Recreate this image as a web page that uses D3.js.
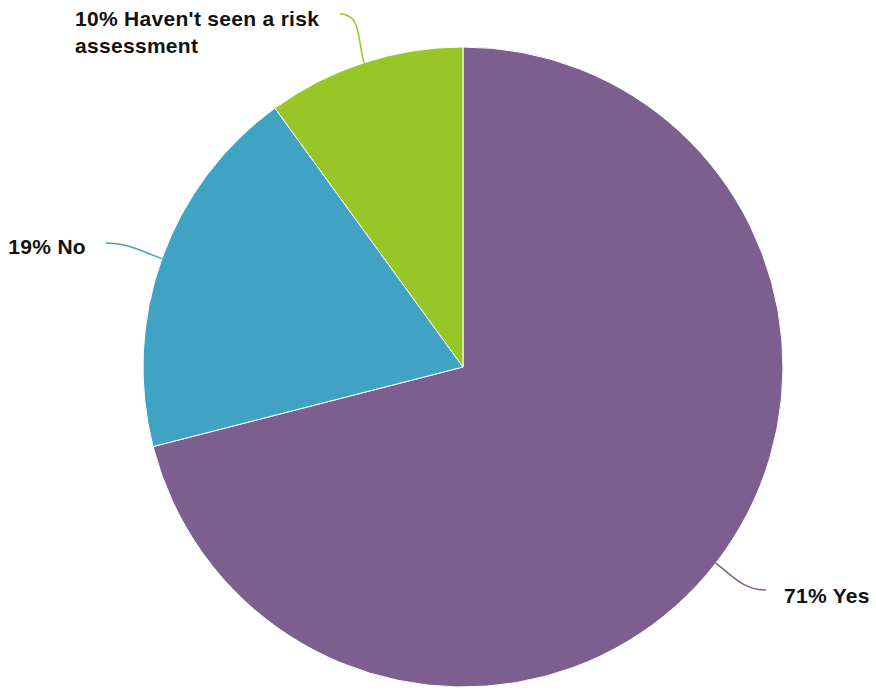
<!DOCTYPE html>
<html><head><meta charset="utf-8">
<script src="https://cdn.jsdelivr.net/npm/d3@7/dist/d3.min.js"></script>
<style>html,body{margin:0;padding:0;background:#fff;}svg{display:block;}</style>
</head><body>
<svg id="c" width="876" height="690"></svg>
<script>
const categories = ["Yes", "No", "Haven't seen a risk assessment"];
const values = [71, 19, 10];
const colors = ["#7C5F8E", "#40A3C3", "#97C626"];
const labelLines = [["71% Yes"], ["19% No"], ["10% Haven't seen a risk", "assessment"]];

const W = 876, H = 690, cx = 463, cy = 367, R = 320;
const svg = d3.select("#c");
const g = svg.append("g").attr("transform", `translate(${cx},${cy})`);
const pie = d3.pie().sort(null).value(d => d)(values);
const arc = d3.arc().innerRadius(0).outerRadius(R);

g.selectAll("path.slice").data(pie).enter().append("path")
  .attr("class", "slice")
  .attr("d", arc)
  .attr("fill", (d, i) => colors[i])
  .attr("stroke", "#fff").attr("stroke-width", 1).attr("stroke-linejoin", "round");

// label anchor offsets (end of connector relative to center)
const ends = [[303, 223], [-357, -124], [-123, -353]];
const side = [1, -1, -1];
pie.forEach((d, i) => {
  const a = (d.startAngle + d.endAngle) / 2;
  const dx = Math.sin(a), dy = -Math.cos(a);
  const ex = dx * R, ey = dy * R;
  const [tx, ty] = ends[i];
  const c1 = [ex + dx * 22, ey + dy * 22];
  const c2 = [tx - side[i] * 22, ty];
  g.append("path")
    .attr("d", `M${ex},${ey}C${c1[0]},${c1[1]} ${c2[0]},${c2[1]} ${tx},${ty}`)
    .attr("fill", "none").attr("stroke", colors[i]).attr("stroke-width", 1.5);
});

const labelPos = [
  {x: 784, y: 603, anchor: "start"},
  {x: 86, y: 254, anchor: "end"},
  {x: 75, y: 26, anchor: "start"}
];
labelLines.forEach((lines, i) => {
  const t = svg.append("text")
    .attr("x", labelPos[i].x).attr("y", labelPos[i].y)
    .attr("text-anchor", labelPos[i].anchor)
    .attr("font-family", "Liberation Sans, Arial, Helvetica, sans-serif")
    .attr("font-weight", "bold").attr("font-size", 21).attr("letter-spacing", 0.3).attr("fill", "#111");
  lines.forEach((l, j) => {
    t.append("tspan").attr("x", labelPos[i].x).attr("dy", j === 0 ? 0 : 27).text(l);
  });
});
</script>
</body></html>
